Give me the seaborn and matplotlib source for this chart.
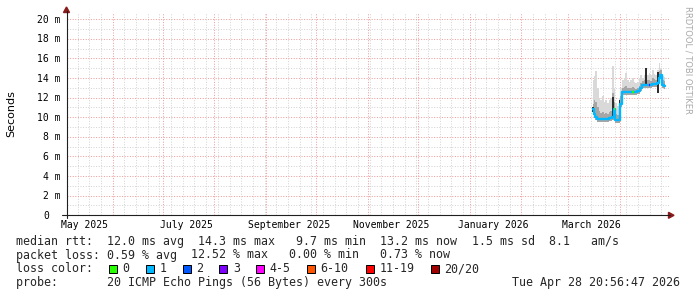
import matplotlib
matplotlib.use("Agg")
import matplotlib.pyplot as plt
import matplotlib.dates as mdates
import matplotlib.transforms as mtrans
from matplotlib.patches import Polygon, Rectangle
from matplotlib.lines import Line2D
from matplotlib.ticker import FixedLocator, MultipleLocator
import numpy as np
import pandas as pd
import seaborn as sns

# ---------------- data ----------------
dates = ["2026-03-16", "2026-03-17", "2026-03-18", "2026-03-19", "2026-03-20",
         "2026-03-21", "2026-03-22", "2026-03-23", "2026-03-24", "2026-03-25",
         "2026-03-26", "2026-03-27", "2026-03-28", "2026-03-29", "2026-03-30",
         "2026-03-31", "2026-04-01", "2026-04-02", "2026-04-03", "2026-04-04",
         "2026-04-05", "2026-04-06", "2026-04-07", "2026-04-08", "2026-04-09",
         "2026-04-10", "2026-04-11", "2026-04-12", "2026-04-13", "2026-04-14",
         "2026-04-15", "2026-04-16", "2026-04-17", "2026-04-18", "2026-04-19",
         "2026-04-20", "2026-04-21", "2026-04-22", "2026-04-23", "2026-04-24",
         "2026-04-25", "2026-04-26", "2026-04-27", "2026-04-28"]
median_ms = [10.8, 10.3, 10.0, 9.8, 9.8, 9.8, 9.8, 9.8, 9.8, 9.8,
             9.9, 9.9, 10.0, 10.8, 9.7, 9.7, 9.7, 11.4, 12.6, 12.6,
             12.6, 12.6, 12.6, 12.6, 12.6, 12.6, 12.6, 12.7, 12.7, 12.95,
             13.3, 13.3, 13.3, 13.3, 13.3, 13.3, 13.4, 13.4, 13.4, 13.5,
             14.0, 14.3, 13.3, 13.2]
smoke_top = [13.8, 14.2, 14.7, 13.0, 12.0, 11.8, 12.2, 11.6, 11.8, 11.5,
             11.8, 12.0, 15.2, 13.0, 11.5, 11.2, 12.0, 13.0, 13.8, 14.0,
             14.5, 13.8, 13.6, 13.8, 14.0, 13.6, 13.5, 13.6, 14.0, 14.3,
             14.0, 14.3, 15.0, 14.3, 14.5, 14.3, 14.8, 14.4, 14.3, 14.8,
             15.5, 15.0, 14.2, 14.1]
smoke_mid = [11.4, 11.8, 11.6, 11.0, 10.6, 10.4, 10.5, 10.3, 10.4, 10.3,
             10.5, 10.6, 12.5, 11.6, 10.3, 10.2, 10.6, 12.2, 13.0, 13.1,
             13.2, 13.0, 13.0, 13.0, 13.1, 13.0, 12.9, 13.0, 13.2, 13.5,
             13.7, 13.8, 14.2, 13.8, 13.8, 13.7, 14.0, 13.9, 13.8, 14.1,
             14.7, 14.8, 13.8, 13.7]
nan = float("nan")
dark_lo = [10.5, nan, nan, nan, nan, nan, nan, nan, nan, nan,
           nan, nan, 9.9, nan, nan, nan, 9.7, nan, nan, nan,
           nan, nan, nan, nan, nan, nan, nan, nan, nan, nan,
           nan, nan, 13.3, nan, nan, nan, nan, nan, nan, 12.5,
           nan, nan, nan, nan]
dark_hi = [11.0, nan, nan, nan, nan, nan, nan, nan, nan, nan,
           nan, nan, 12.1, nan, nan, nan, 11.8, nan, nan, nan,
           nan, nan, nan, nan, nan, nan, nan, nan, nan, nan,
           nan, nan, 15.0, nan, nan, nan, nan, nan, nan, 14.6,
           nan, nan, nan, nan]
loss_class = [1, 1, 1, 1, 1, 1, 1, 1, 1, 1,
              1, 1, 1, 0, 1, 1, 1, 1, 1, 1,
              1, 1, 1, 1, 0, 1, 1, 1, 1, 1,
              1, 1, 1, 1, 3, 1, 1, 1, 1, 1,
              1, 1, 1, 1]

y_ticks = [0, 2, 4, 6, 8, 10, 12, 14, 16, 18, 20]
y_tick_labels = ["0", "2 m", "4 m", "6 m", "8 m", "10 m", "12 m", "14 m",
                 "16 m", "18 m", "20 m"]
x_label_dates = ["2025-05-15", "2025-07-15", "2025-09-15", "2025-11-15",
                 "2026-01-15", "2026-03-15"]
x_labels = ["May 2025", "July 2025", "September 2025", "November 2025",
            "January 2026", "March 2026"]

loss_names = ["0", "1", "2", "3", "4-5", "6-10", "11-19", "20/20"]
loss_colors = ["#26ff00", "#00b8ff", "#0059ff", "#7e00ff", "#ff00ff",
               "#ff5500", "#ff0000", "#a10000"]

legend_rtt = [("median rtt:  12.0 ms avg", 16), ("14.3 ms max", 198),
              (" 9.7 ms min", 289), ("13.2 ms now", 380), ("1.5 ms sd", 472),
              ("8.1   am/s", 549)]
legend_loss = [("packet loss: 0.59 % avg", 16), ("12.52 % max", 191),
               (" 0.00 % min", 282), (" 0.73 % now", 373)]
legend_probe = [("probe:       20 ICMP Echo Pings (56 Bytes) every 300s", 16),
                ("Tue Apr 28 20:56:47 2026", 512)]
swatch_x = [109, 145.7, 182.7, 219.3, 256, 306.7, 365.7, 430.7]

# ---------------- figure ----------------
W, H = 697, 297
sns.set_style("white")
plt.rcParams["font.family"] = ["DejaVu Sans"]
MONO = "DejaVu Sans Mono"

fig = plt.figure(figsize=(W / 100, H / 100), dpi=100)
fig.patch.set_facecolor("white")

X0, X1, YB, YT = 66.5, 668.5, 215.3, 13.0
ax = fig.add_axes([X0 / W, (H - YB) / H, (X1 - X0) / W, (YB - YT) / H])
ax.set_facecolor("white")

def fx(x):
    return x / W

def fy(y):
    return 1 - y / H

df = pd.DataFrame({"date": pd.to_datetime(dates), "median": median_ms,
                   "top": smoke_top, "mid": smoke_mid,
                   "dlo": dark_lo, "dhi": dark_hi, "loss": loss_class})
df["low"] = df["median"] - 0.3

# smoke
ax.fill_between(df["date"], df["low"], df["top"], step="mid",
                color="#d9d9d9", lw=0, zorder=2)
ax.fill_between(df["date"], df["low"], df["mid"], step="mid",
                color="#a6a6a6", lw=0, zorder=3)
dk = df.dropna(subset=["dlo"])
ax.bar(dk["date"], dk["dhi"] - dk["dlo"], bottom=dk["dlo"], width=1.0,
       color="#2e2e2e", lw=0, zorder=4)

# median line coloured by loss
sns.lineplot(data=df, x="date", y="median", drawstyle="steps-mid",
             color=loss_colors[1], lw=1.7, ax=ax, zorder=5, estimator=None)
for _, r in df[df["loss"] != 1].iterrows():
    xc = mdates.date2num(r["date"])
    ax.hlines(r["median"], xc - 0.5, xc + 0.5, color=loss_colors[int(r["loss"])],
              lw=1.7, zorder=6)

# axes limits / grid
ax.set_xlim(pd.Timestamp("2025-05-04 05:00"), pd.Timestamp("2026-04-30 09:00"))
ax.set_ylim(0, 20.64)
ax.xaxis.set_major_locator(mdates.MonthLocator())
ax.xaxis.set_minor_locator(mdates.WeekdayLocator(byweekday=mdates.SU))
ax.yaxis.set_major_locator(FixedLocator(y_ticks))
ax.yaxis.set_minor_locator(MultipleLocator(1))
ax.grid(which="minor", color="#d4d4d4", lw=0.72, linestyle=(0, (1, 1.6)))
ax.grid(which="major", color="#ee9c9c", lw=0.72, linestyle=(0, (1, 1.6)))
ax.set_axisbelow(True)
ax.tick_params(labelbottom=False, labelleft=False)
ax.tick_params(which="major", direction="inout", length=4, width=0.72,
               color="#909090")
ax.tick_params(which="minor", direction="inout", length=2, width=0.72,
               color="#b0b0b0")
ax.set_xlabel("")
ax.set_ylabel("")
for s in ax.spines.values():
    s.set_visible(False)

# axis lines with arrows
AXC = "#1f1f1f"
ARC = "#8b1a1a"
fig.add_artist(Line2D([fx(62), fx(670)], [fy(YB), fy(YB)], color=AXC, lw=0.8))
fig.add_artist(Line2D([fx(X0), fx(X0)], [fy(YB + 3), fy(11)], color=AXC, lw=0.8))
fig.add_artist(Polygon([(fx(668.5), fy(YB - 3)), (fx(674), fy(YB)),
                        (fx(668.5), fy(YB + 3))], closed=True, color=ARC,
                       transform=fig.transFigure))
fig.add_artist(Polygon([(fx(X0 - 3), fy(12.5)), (fx(X0), fy(7)),
                        (fx(X0 + 3), fy(12.5))], closed=True, color=ARC,
                       transform=fig.transFigure))

# y tick labels
ytr = mtrans.blended_transform_factory(fig.transFigure, ax.transData) + \
    mtrans.ScaledTranslation(0, -3.5 / 100, fig.dpi_scale_trans)
for v, lab in zip(y_ticks, y_tick_labels):
    xr = 60.5 if lab.endswith("m") else 60.5 - 2 * 5.85
    fig.text(fx(xr), v, lab, transform=ytr, ha="right", va="baseline",
             family=MONO, fontsize=7, color="black")

# x labels
xtr = mtrans.blended_transform_factory(ax.transData, fig.transFigure)
for d, lab in zip(x_label_dates, x_labels):
    ax.text(pd.Timestamp(d), fy(227.5), lab, transform=xtr, ha="center",
            va="baseline", family=MONO, fontsize=7, color="black", clip_on=False)

# y axis title
fig.text(fx(11), fy(113.5), "Seconds", rotation=90, ha="center", va="center",
         fontsize=8, family="DejaVu Sans", color="black")

# watermark
fig.text(fx(688), fy(60), "RRDTOOL / TOBI OETIKER", rotation=270, ha="center",
         va="center", fontsize=6.0, family="DejaVu Sans", color="#a8a8a8")

# legend
LFS = 8.4
for txt, x in legend_rtt:
    fig.text(fx(x), fy(245), txt, family=MONO, fontsize=LFS, va="baseline")
for txt, x in legend_loss:
    fig.text(fx(x), fy(258.5), txt, family=MONO, fontsize=LFS, va="baseline")
fig.text(fx(16), fy(272.5), "loss color:", family=MONO, fontsize=LFS, va="baseline")
for sx, name, col in zip(swatch_x, loss_names, loss_colors):
    fig.add_artist(Rectangle((fx(sx), fy(273)), 8 / W, 8 / H, facecolor=col,
                             edgecolor="black", lw=0.72, transform=fig.transFigure))
    fig.text(fx(sx + 13.5), fy(272.5), name, family=MONO, fontsize=LFS,
             va="baseline")
for txt, x in legend_probe:
    fig.text(fx(x), fy(286), txt, family=MONO, fontsize=LFS, va="baseline")

fig.savefig("out.png", dpi=100, facecolor="white")
